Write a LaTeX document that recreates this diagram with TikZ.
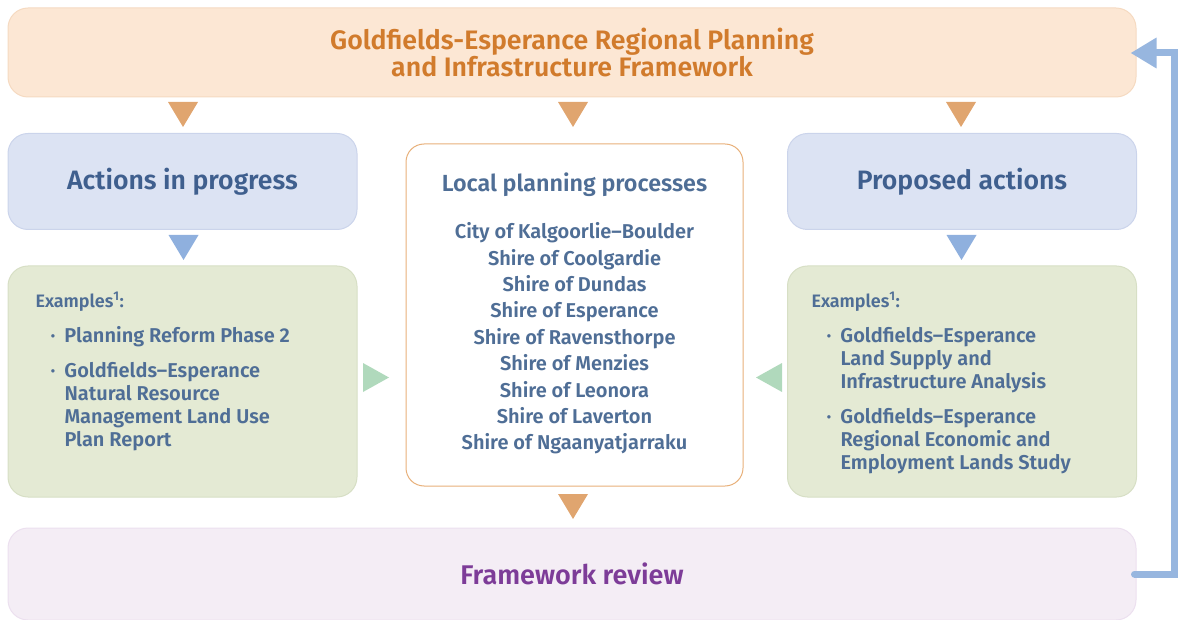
\documentclass[tikz,border=0pt]{standalone}
\usepackage{fontspec}
\setmainfont{Fira Sans}[BoldFont={Fira Sans SemiBold}]
\usepackage{tikz}
\usetikzlibrary{positioning,arrows.meta}

\definecolor{topfill}{HTML}{FCE7D4}
\definecolor{topline}{HTML}{F5DAC1}
\definecolor{toptext}{HTML}{D17B2C}
\definecolor{orangetri}{HTML}{E0A56F}
\definecolor{bluefill}{HTML}{DCE3F3}
\definecolor{blueline}{HTML}{CBD4EB}
\definecolor{bluetri}{HTML}{8FB0DE}
\definecolor{greenfill}{HTML}{E4EAD4}
\definecolor{greenline}{HTML}{D7DFC5}
\definecolor{greentri}{HTML}{B0D9BC}
\definecolor{localline}{HTML}{E8B07A}
\definecolor{headtext}{HTML}{3F5F8E}
\definecolor{bodytext}{HTML}{4F6E96}
\definecolor{reviewfill}{HTML}{F4EDF5}
\definecolor{reviewline}{HTML}{ECE0EF}
\definecolor{reviewtext}{HTML}{7D3C98}
\definecolor{loopline}{HTML}{97B6DF}

\newcommand\tridown[2]{\fill[#2] (#1) +(-15,-12.5) -- +(15,-12.5) -- +(0,12.5) -- cycle;}
\newcommand\triright[2]{\fill[#2] (#1) +(-13,-14.5) -- +(13,0) -- +(-13,14.5) -- cycle;}
\newcommand\trileft[2]{\fill[#2] (#1) +(13,-14.5) -- +(-13,0) -- +(13,14.5) -- cycle;}
\newcommand\bul{\hspace*{15pt}\makebox[14pt][l]{·}}
\newcommand\ind{\hspace*{29pt}}

\begin{document}
\begin{tikzpicture}[x=1pt, y=-1pt, line width=1pt,
  box/.style={rounded corners=20pt, inner sep=0pt, align=center, font=\bfseries},
  top box/.style={box, draw=topline, fill=topfill, text=toptext,
    minimum width=1128pt, minimum height=89pt, font=\fontsize{26.7}{27.5}\selectfont\bfseries},
  head box/.style={box, draw=blueline, fill=bluefill, text=headtext,
    minimum width=349pt, minimum height=96pt, font=\fontsize{26.6}{30}\selectfont\bfseries},
  example box/.style={box, draw=greenline, fill=greenfill,
    minimum width=349pt, minimum height=231pt},
  local box/.style={box, rounded corners=18pt, draw=localline, fill=white, text=bodytext,
    minimum width=337pt, minimum height=342pt, font=\fontsize{20}{26.4}\selectfont\bfseries},
  review box/.style={box, draw=reviewline, fill=reviewfill, text=reviewtext,
    minimum width=1128pt, minimum height=92pt, font=\fontsize{27}{30}\selectfont\bfseries},
  example text/.style={anchor=north west, inner sep=0pt, align=left, text=bodytext,
    font=\fontsize{20}{23}\selectfont\bfseries}]

\useasboundingbox (0,0) rectangle (1178,620);

% boxes
\node[top box] (frame) at (572,52.5) {Goldfields-Esperance Regional Planning\\and Infrastructure Framework};
\node[head box] (inprog) at (182.5,181.5) {Actions in progress};
\node[head box] (proposed) at (962,181.5) {Proposed actions};
\node[example box] (leftex) at (182.5,381.5) {};
\node[example box] (rightex) at (962,381.5) {};
\node[local box] (local) at (574.5,315) {};
\node[text=bodytext, inner sep=0pt, align=center, font=\fontsize{20}{26.4}\selectfont\bfseries]
  (shires) at (574.5,313.5) {{\fontsize{23.3}{26}\selectfont Local planning processes}\\[21pt]
  City of Kalgoorlie–Boulder\\ Shire of Coolgardie\\ Shire of Dundas\\ Shire of Esperance\\
  Shire of Ravensthorpe\\ Shire of Menzies\\ Shire of Leonora\\ Shire of Laverton\\
  Shire of Ngaanyatjarraku};
\node[review box] (review) at (572,574) {Framework review};

% examples
\node[example text] (lefttext) at (35,292) {{\fontsize{18}{23}\selectfont Examples\textsuperscript{1}:}\\[12pt]
  \bul Planning Reform Phase 2\\[12pt]
  \bul Goldfields–Esperance\\ \ind Natural Resource\\
  \ind Management Land Use\\ \ind Plan Report};
\node[example text] (righttext) at (811,292) {{\fontsize{18}{23}\selectfont Examples\textsuperscript{1}:}\\[12pt]
  \bul Goldfields–Esperance\\ \ind Land Supply and\\ \ind Infrastructure Analysis\\[12pt]
  \bul Goldfields–Esperance\\ \ind Regional Economic and\\ \ind Employment Lands Study};

% triangles
\tridown{183,114.5}{orangetri}
\tridown{573,114.5}{orangetri}
\tridown{961,114.5}{orangetri}
\tridown{183.5,247.5}{bluetri}
\tridown{961.5,247.5}{bluetri}
\tridown{573,506.5}{orangetri}
\triright{376,377.5}{greentri}
\trileft{769,377.5}{greentri}

% feedback loop
\coordinate (corner1) at (1174.5,574);
\coordinate (corner2) at (1174.5,53);
\draw[loopline, line width=7pt, line cap=round, -{Triangle[length=26pt,width=29pt]}]
  ([xshift=-2pt]review.east) -- (corner1) -- (corner2) -- ([xshift=-6pt]frame.east |- corner2);

\end{tikzpicture}
\end{document}
